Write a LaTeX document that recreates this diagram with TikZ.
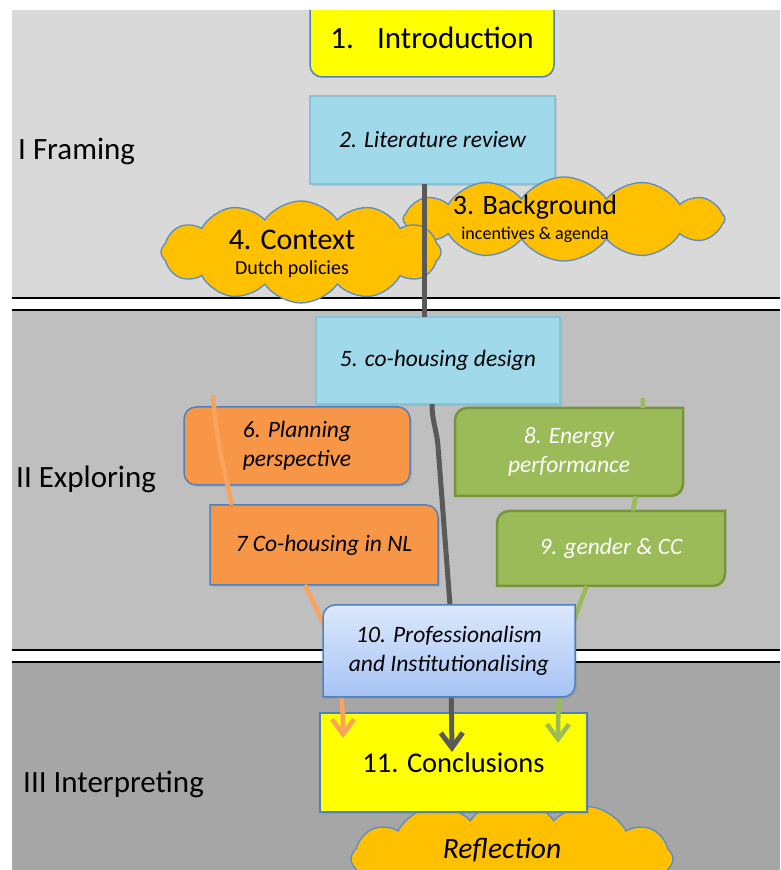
\documentclass[tikz,border=0pt]{standalone}
\usepackage{fontspec}
\setmainfont{Carlito}
\usepackage{tikz}
\usetikzlibrary{shapes.symbols,arrows.meta,shadows}

\definecolor{bandone}{HTML}{D9D9D9}
\definecolor{bandtwo}{HTML}{BFBFBF}
\definecolor{bandthree}{HTML}{A6A6A6}
\definecolor{introyellow}{HTML}{FFFF00}
\definecolor{litblue}{HTML}{9FD9EA}
\definecolor{litblueline}{HTML}{86C3D6}
\definecolor{boxline}{HTML}{4F81BD}
\definecolor{planorange}{HTML}{F79646}
\definecolor{orangeflow}{HTML}{FAA35C}
\definecolor{energygreen}{HTML}{9BBB59}
\definecolor{greenline}{HTML}{77933C}
\definecolor{proftop}{HTML}{DCE8FC}
\definecolor{profbottom}{HTML}{A6C3F5}
\definecolor{cloudfill}{HTML}{FFC000}
\definecolor{cloudline}{HTML}{5B8BC9}
\definecolor{spinegray}{HTML}{595959}

% box with rounded top-left and bottom-right corners
\newcommand{\tabbox}[5]{%
  \path[#1] (#2,#3) -- (#2,#5-12) arc[start angle=180, end angle=90, radius=12]
    -- (#4,#5) -- (#4,#3+12) arc[start angle=0, end angle=-90, radius=12] -- cycle;}

\begin{document}
\begin{tikzpicture}[x=1pt, y=1pt,
  partlabel/.style={anchor=base west, inner sep=0pt, font=\fontsize{31}{37}\selectfont},
  boxtext/.style={inner sep=0pt, align=center, font=\fontsize{23.5}{29}\selectfont\itshape},
  softshadow/.style={drop shadow={shadow xshift=2pt, shadow yshift=-2pt, opacity=.25}},
  bluebox/.style={fill=litblue, draw=litblueline, line width=1.2, softshadow},
  orangebox/.style={fill=planorange, draw=boxline, line width=1.5, softshadow},
  greenbox/.style={fill=energygreen, draw=greenline, line width=2.5},
  profbox/.style={top color=proftop, bottom color=profbottom, draw=boxline, line width=1.5, softshadow},
  yellowbox/.style={fill=introyellow, draw=boxline, line width=1.5},
  bubble/.style={cloud, cloud puffs=12, cloud puff arc=110, cloud ignores aspect,
    fill=cloudfill, draw=cloudline, line width=1.3, inner sep=0pt},
  spine/.style={draw=spinegray, line width=5},
  flow/.style={line width=4.5, -{Straight Barb[length=15pt, width=22pt]}},
]
\useasboundingbox (0,0) rectangle (780,870);
\clip (0,0) rectangle (780,870);

% bands
\fill[bandone] (12,572) rectangle (780,860);
\fill[bandtwo] (12,220) rectangle (780,560);
\fill[bandthree] (12,0) rectangle (780,208);
\foreach \y in {572,560,220,208}
  \draw[line width=1.5] (12,\y) -- (780,\y);

\node[partlabel] (framing) at (18,710) {I Framing};
\node[partlabel] (exploring) at (16,382) {II Exploring};
\node[partlabel] (interpreting) at (23,77) {III Interpreting};

% I Framing
\path[yellowbox] (310,860) -- (310,805) arc[start angle=180, end angle=270, radius=12]
  -- (542,793) arc[start angle=270, end angle=360, radius=12] -- (554,860);
\node[font=\fontsize{31}{37}\selectfont] (intro) at (432,832) {1.\hspace{0.75em}Introduction};

\draw[bluebox] (310,686) rectangle (555,774);
\node[boxtext, minimum width=245, minimum height=88] (litreview) at (432.5,730) {2. Literature review};

\node[bubble, minimum width=322, minimum height=84] (background) at (564,651) {};
\node[font=\fontsize{28}{32}\selectfont] (bgtitle) at (535,663) {3. Background};
\node[font=\fontsize{18}{22}\selectfont] (bgsub) at (535,635) {incentives \& agenda};

\node[bubble, minimum width=280, minimum height=102] (context) at (301,618) {};
\node[font=\fontsize{30}{34}\selectfont] (ctxtitle) at (292,630) {4. Context};
\node[font=\fontsize{20}{24}\selectfont] (ctxsub) at (292,601) {Dutch policies};

% II Exploring
\draw[bluebox] (316,466) rectangle (560,553);
\node[boxtext, minimum width=244, minimum height=87] (design) at (438,509.5) {5. co-housing design};

\draw[spine] ([xshift=-8]litreview.south) -- ([xshift=-8]litreview.south |- design.north);

\draw[orangebox, rounded corners=12] (184,385) rectangle (410,463);
\node[boxtext, minimum width=226, minimum height=78] (planning) at (297,424) {6. Planning\\perspective};

\path[orangebox] (210,285) -- (210,365) -- (426,365) arc[start angle=90, end angle=0, radius=12]
  -- (438,285) -- cycle;
\node[boxtext, minimum width=228, minimum height=80] (cohousing) at (324,325) {7 Co-housing in NL};

\tabbox{greenbox}{455}{374}{683}{462}
\node[boxtext, text=white, minimum width=228, minimum height=88] (energy) at (569,418) {8. Energy\\performance};

\tabbox{greenbox}{497}{284}{725}{359}
\node[boxtext, text=white, minimum width=228, minimum height=75] (gender) at (611,321.5) {9. gender \& CC};

% III Interpreting
\node[bubble, minimum width=322, minimum height=120] (reflection) at (512,11) {};
\node[font=\fontsize{29.5}{34}\selectfont\itshape] (refltext) at (502,20) {Reflection};

\draw[yellowbox, softshadow] (320,58) rectangle (587,157);
\node[font=\fontsize{28.5}{33}\selectfont, minimum width=267, minimum height=99] (conclusions) at (453.5,107.5) {11. Conclusions};

% flows
\coordinate (orangeTop) at (213,475);
\coordinate (orangeTip) at (343,132);
\coordinate (greenTop) at (643,472);
\coordinate (greenTip) at (558,127);
\coordinate (grayBend) at (438,424);
\coordinate (grayLow) at (450,265);
\coordinate (grayTip) at (452,118);

\draw[orangeflow, line width=4.5] (orangeTop) to[out=-86, in=102] ([xshift=22]cohousing.north west);
\draw[orangeflow, flow] ([xshift=95]cohousing.south west) to[out=-62, in=90] (orangeTip);

\draw[energygreen, line width=4.5] (greenTop) -- ([xshift=188]energy.north west);
\draw[energygreen, line width=4.5] ([xshift=181]energy.south west) -- ([xshift=136]gender.north west);
\draw[energygreen, flow] ([xshift=90]gender.south west) to[out=-112, in=90] (greenTip);

\draw[spinegray, flow, line width=5] ([xshift=-6]design.south) to[out=-90, in=95] (grayBend)
  -- (grayLow) -- (grayTip);

\tabbox{profbox}{323}{173}{575}{265}
\node[boxtext, minimum width=252, minimum height=92] (prof) at (449,219) {10. Professionalism\\and Institutionalising};
\end{tikzpicture}
\end{document}
